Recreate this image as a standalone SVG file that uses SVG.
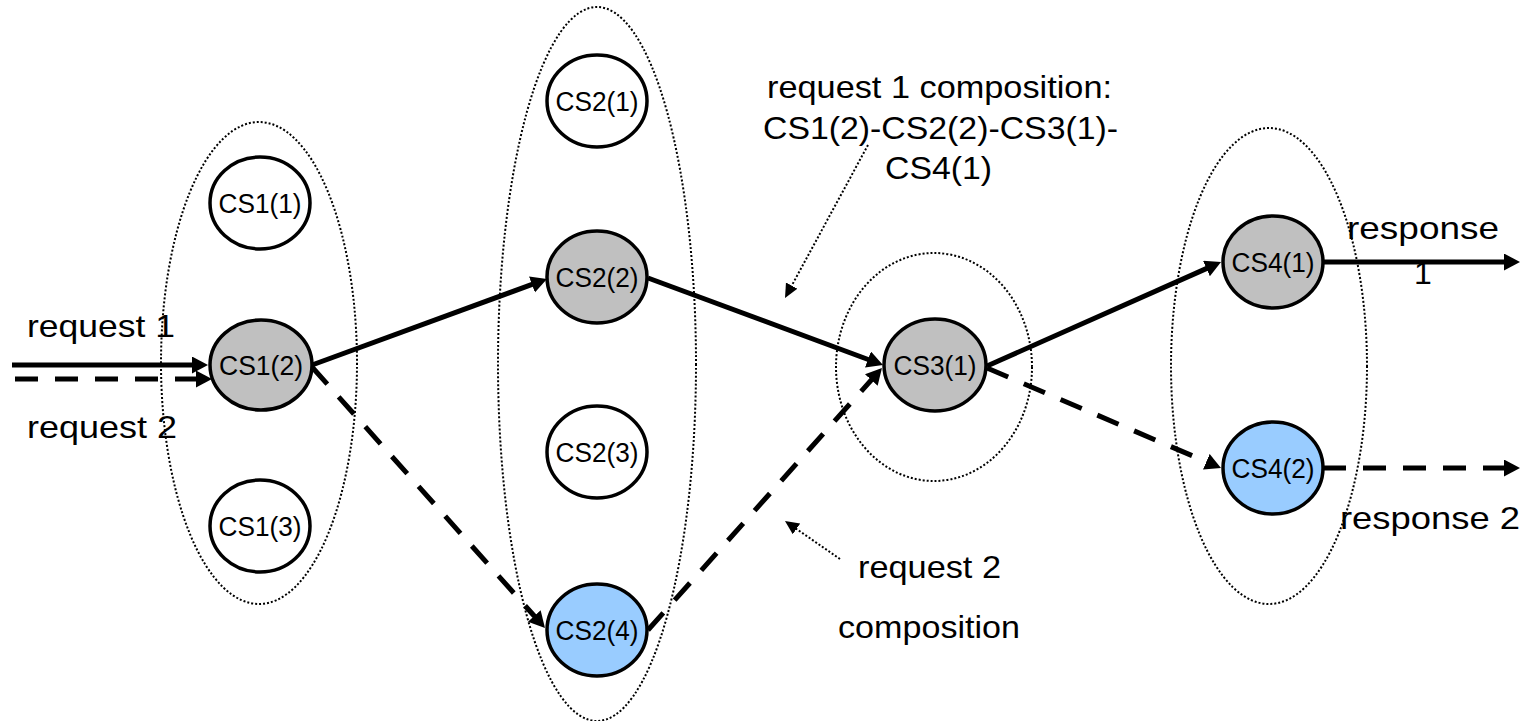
<svg xmlns="http://www.w3.org/2000/svg" width="1530" height="721" viewBox="0 0 1530 721">
  <style>
    .cluster { fill: none; stroke: #000; stroke-width: 2; stroke-dasharray: 2 2; }
    .node { stroke: #000; stroke-width: 3.5; }
    .idle { fill: #ffffff; }
    .r1 { fill: #c0c0c0; }
    .r2 { fill: #99ccff; }
    .nlabel { font-family: "Liberation Sans", Arial, sans-serif; font-size: 27px; fill: #000; text-anchor: middle; }
    .label { font-family: "Liberation Sans", Arial, sans-serif; font-size: 32px; fill: #000; }
    .flow { fill: none; stroke: #000; stroke-width: 5; marker-end: url(#head); }
    .dash { stroke-dasharray: 23 17; }
    .pointer { fill: none; stroke: #000; stroke-width: 2; stroke-dasharray: 2 2; marker-end: url(#phead); }
  </style>
  <defs>
    <marker id="head" markerUnits="userSpaceOnUse" markerWidth="18" markerHeight="18" refX="6" refY="8.5" orient="auto">
      <path d="M0,0 L16,8.5 L0,17 z" fill="#000"/>
    </marker>
    <marker id="phead" markerUnits="userSpaceOnUse" markerWidth="16" markerHeight="16" refX="4" refY="6.5" orient="auto">
      <path d="M0,0 L14,6.5 L0,13 z" fill="#000"/>
    </marker>
  </defs>
  <rect width="1530" height="721" fill="#fff"/>

  <!-- service candidate groups -->
  <g id="clusters">
    <ellipse id="group-cs1" class="cluster" cx="259" cy="363" rx="98" ry="241"/>
    <ellipse id="group-cs2" class="cluster" cx="597" cy="364" rx="99" ry="357"/>
    <ellipse id="group-cs3" class="cluster" cx="934" cy="367" rx="98" ry="114"/>
    <ellipse id="group-cs4" class="cluster" cx="1269" cy="366" rx="98" ry="238"/>
  </g>

  <!-- labels -->
  <g id="labels">
    <text class="label" x="27" y="337" textLength="148" lengthAdjust="spacingAndGlyphs">request 1</text>
    <text class="label" x="27" y="438" textLength="150" lengthAdjust="spacingAndGlyphs">request 2</text>
    <text class="label" x="767" y="98" textLength="345" lengthAdjust="spacingAndGlyphs">request 1 composition:</text>
    <text class="label" x="763" y="139" textLength="355" lengthAdjust="spacingAndGlyphs">CS1(2)-CS2(2)-CS3(1)-</text>
    <text class="label" x="885" y="179" textLength="107" lengthAdjust="spacingAndGlyphs">CS4(1)</text>
    <text class="label" x="1347" y="239" textLength="152" lengthAdjust="spacingAndGlyphs">response</text>
    <text class="label" x="1423" y="284" text-anchor="middle">1</text>
    <text class="label" x="1340" y="529" textLength="180" lengthAdjust="spacingAndGlyphs">response 2</text>
    <text class="label" x="858" y="578" textLength="143" lengthAdjust="spacingAndGlyphs">request 2</text>
    <text class="label" x="838" y="638" textLength="182" lengthAdjust="spacingAndGlyphs">composition</text>
  </g>

  <!-- connectors -->
  <g id="connectors">
    <path class="flow" d="M12,365 L198,365"/>
    <path class="flow dash" d="M15,379 L202,379"/>
    <path class="flow" d="M312,365 L537.6,282.4"/>
    <path class="flow dash" d="M312,367 L538.3,620.5"/>
    <path class="flow" d="M648,278 L873.6,361.5"/>
    <path class="flow dash" d="M648,630 L875.3,375.5"/>
    <path class="flow" d="M987,366 L1211.9,266.1"/>
    <path class="flow dash" d="M987,368 L1211.8,464.1"/>
    <path class="flow" d="M1323,262 L1510,262"/>
    <path class="flow dash" d="M1323,468 L1510,468"/>
    <path class="pointer" d="M868,145 L789.8,289.2"/>
    <path class="pointer" d="M840,559 L793.2,526.7"/>
  </g>

  <!-- service nodes -->
  <g id="cs1-1"><ellipse class="node idle" cx="260" cy="203" rx="50" ry="46"/><text class="nlabel" x="260" y="213" textLength="83" lengthAdjust="spacingAndGlyphs">CS1(1)</text></g>
  <g id="cs1-2"><ellipse class="node r1" cx="261" cy="365" rx="51" ry="45"/><text class="nlabel" x="261" y="375" textLength="84" lengthAdjust="spacingAndGlyphs">CS1(2)</text></g>
  <g id="cs1-3"><ellipse class="node idle" cx="260" cy="526" rx="50" ry="46"/><text class="nlabel" x="260" y="536" textLength="83" lengthAdjust="spacingAndGlyphs">CS1(3)</text></g>
  <g id="cs2-1"><ellipse class="node idle" cx="597" cy="101" rx="50" ry="46"/><text class="nlabel" x="597" y="111" textLength="83" lengthAdjust="spacingAndGlyphs">CS2(1)</text></g>
  <g id="cs2-2"><ellipse class="node r1" cx="597" cy="277" rx="50" ry="46"/><text class="nlabel" x="597" y="287" textLength="83" lengthAdjust="spacingAndGlyphs">CS2(2)</text></g>
  <g id="cs2-3"><ellipse class="node idle" cx="597" cy="452" rx="50" ry="46"/><text class="nlabel" x="597" y="462" textLength="83" lengthAdjust="spacingAndGlyphs">CS2(3)</text></g>
  <g id="cs2-4"><ellipse class="node r2" cx="597" cy="630" rx="50" ry="46"/><text class="nlabel" x="597" y="640" textLength="83" lengthAdjust="spacingAndGlyphs">CS2(4)</text></g>
  <g id="cs3-1"><ellipse class="node r1" cx="935" cy="365" rx="51" ry="46"/><text class="nlabel" x="935" y="375" textLength="83" lengthAdjust="spacingAndGlyphs">CS3(1)</text></g>
  <g id="cs4-1"><ellipse class="node r1" cx="1273" cy="262" rx="50" ry="46"/><text class="nlabel" x="1273" y="272" textLength="83" lengthAdjust="spacingAndGlyphs">CS4(1)</text></g>
  <g id="cs4-2"><ellipse class="node r2" cx="1273" cy="468" rx="50" ry="46"/><text class="nlabel" x="1273" y="478" textLength="83" lengthAdjust="spacingAndGlyphs">CS4(2)</text></g>
</svg>
